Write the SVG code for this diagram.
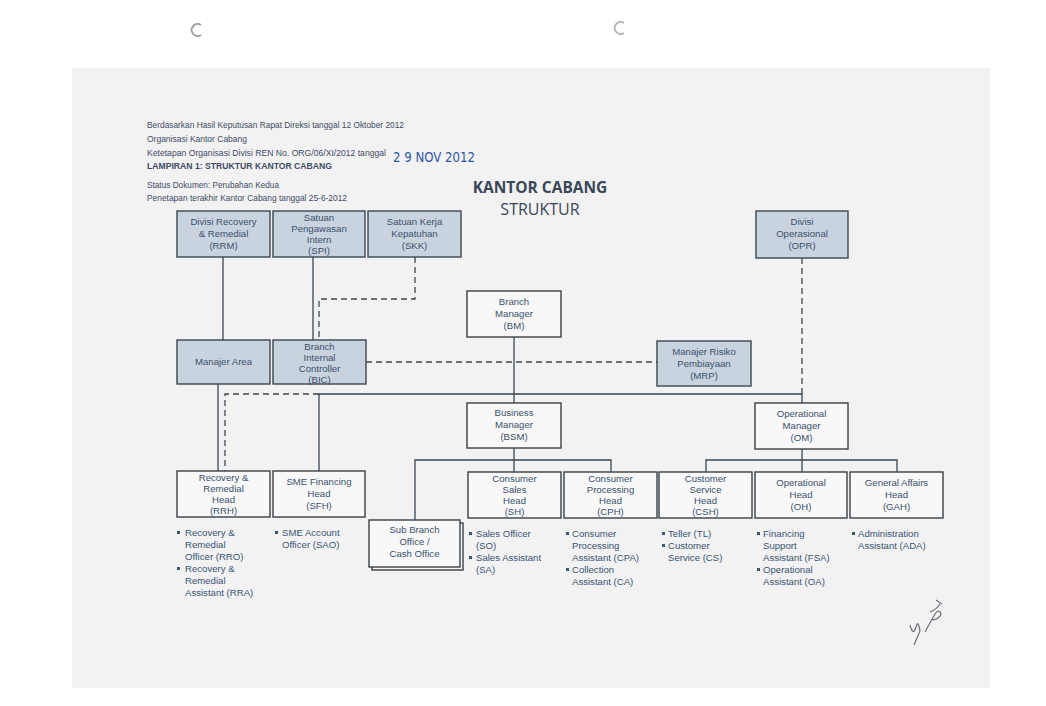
<svg xmlns="http://www.w3.org/2000/svg" width="1046" height="706" viewBox="0 0 1046 706">
<defs>
<style>
.hdr{font-family:"Liberation Sans",Arial,sans-serif;font-size:8.6px;fill:#404b66}
.hdrb{font-weight:bold}
.ttl{font-family:"Open Sans","Liberation Sans",sans-serif;fill:#3a4658;text-anchor:middle}
.gbox{fill:#c9d3df;stroke:#3c4650;stroke-width:1.4}
.wbox{fill:#f8f8f8;stroke:#3a4047;stroke-width:1.4}
.bt{font-family:"Liberation Sans",Arial,sans-serif;font-size:9.6px;fill:#3a506c;text-anchor:middle}
.lt{font-family:"Liberation Sans",Arial,sans-serif;font-size:9.6px;fill:#3a5273}
.bul{fill:#3d5675}
.sol{fill:none;stroke:#3b4650;stroke-width:1.3}
.dsh{fill:none;stroke:#3b4650;stroke-width:1.3;stroke-dasharray:6 4}
</style>
</defs>
<rect width="1046" height="706" fill="#ffffff"/>
<rect x="72" y="68" width="918" height="620" fill="#f2f2f2"/>
<path d="M201 25 A6 6 0 1 0 201 35" fill="none" stroke="#9aa0a6" stroke-width="2"/>
<path d="M624 23 A6 6 0 1 0 624 33" fill="none" stroke="#b0b5ba" stroke-width="2"/>

<g id="header">
<text class="hdr" x="147" y="128" textLength="257" lengthAdjust="spacingAndGlyphs">Berdasarkan Hasil Keputusan Rapat Direksi tanggal 12 Oktober 2012</text>
<text class="hdr" x="147" y="142" textLength="100" lengthAdjust="spacingAndGlyphs">Organisasi Kantor Cabang</text>
<text class="hdr" x="147" y="156" textLength="239" lengthAdjust="spacingAndGlyphs">Ketetapan Organisasi Divisi REN No. ORG/06/XI/2012 tanggal</text>
<text class="hdr hdrb" x="147" y="169" textLength="185" lengthAdjust="spacingAndGlyphs">LAMPIRAN 1: STRUKTUR KANTOR CABANG</text>
<text class="hdr" x="147" y="188" textLength="132" lengthAdjust="spacingAndGlyphs">Status Dokumen: Perubahan Kedua</text>
<text class="hdr" x="147" y="201" textLength="200" lengthAdjust="spacingAndGlyphs">Penetapan terakhir Kantor Cabang tanggal 25-6-2012</text>
<text x="393" y="162" font-family="'DejaVu Sans Condensed','DejaVu Sans',sans-serif" font-size="14" fill="#2f56a8" textLength="82" lengthAdjust="spacingAndGlyphs">2 9  NOV  2012</text>
</g>

<g id="title">
<text class="ttl" x="540" y="193" font-size="15.5" font-weight="bold">KANTOR CABANG</text>
<text class="ttl" x="540" y="215" font-size="16">STRUKTUR</text>
</g>

<g id="connectors">
<path class="sol" d="M223 257 V340"/>
<path class="sol" d="M313 257 V340"/>
<path class="dsh" d="M415 257 V299 H319 V340"/>
<path class="dsh" d="M366 362 H657"/>
<path class="sol" d="M514 337 V403"/>
<path class="sol" d="M319 471 V394 H802 V403"/>
<path class="dsh" d="M802 258 V394"/>
<path class="sol" d="M218 384 V471"/>
<path class="dsh" d="M319 394 H225 V471"/>
<path class="sol" d="M514 448 V472"/>
<path class="sol" d="M415 520 V460 H611 V472"/>
<path class="sol" d="M802 449 V472"/>
<path class="sol" d="M706 472 V460 H897 V472"/>
</g>

<g id="RRM"><rect class="gbox" x="177" y="211" width="93" height="46"/>
<text class="bt" x="223.5" y="225">Divisi Recovery</text><text class="bt" x="223.5" y="237">&amp; Remedial</text><text class="bt" x="223.5" y="249">(RRM)</text></g>
<g id="SPI"><rect class="gbox" x="273" y="211" width="92" height="46"/>
<text class="bt" x="319" y="221">Satuan</text><text class="bt" x="319" y="232">Pengawasan</text><text class="bt" x="319" y="243">Intern</text><text class="bt" x="319" y="254">(SPI)</text></g>
<g id="SKK"><rect class="gbox" x="368" y="211" width="93" height="46"/>
<text class="bt" x="414.5" y="225">Satuan Kerja</text><text class="bt" x="414.5" y="237">Kepatuhan</text><text class="bt" x="414.5" y="249">(SKK)</text></g>
<g id="OPR"><rect class="gbox" x="756" y="211" width="92" height="47"/>
<text class="bt" x="802" y="225">Divisi</text><text class="bt" x="802" y="237">Operasional</text><text class="bt" x="802" y="249">(OPR)</text></g>

<g id="BM"><rect class="wbox" x="467" y="291" width="94" height="46"/>
<text class="bt" x="514" y="305">Branch</text><text class="bt" x="514" y="317">Manager</text><text class="bt" x="514" y="329">(BM)</text></g>

<g id="MA"><rect class="gbox" x="177" y="340" width="93" height="44"/>
<text class="bt" x="223.5" y="365">Manajer Area</text></g>
<g id="BIC"><rect class="gbox" x="273" y="340" width="93" height="44"/>
<text class="bt" x="319.5" y="350">Branch</text><text class="bt" x="319.5" y="361">Internal</text><text class="bt" x="319.5" y="372">Controller</text><text class="bt" x="319.5" y="383">(BIC)</text></g>
<g id="MRP"><rect class="gbox" x="657" y="341" width="94" height="45"/>
<text class="bt" x="704" y="355">Manajer Risiko</text><text class="bt" x="704" y="367">Pembiayaan</text><text class="bt" x="704" y="379">(MRP)</text></g>

<g id="BSM"><rect class="wbox" x="467" y="403" width="94" height="45"/>
<text class="bt" x="514" y="416">Business</text><text class="bt" x="514" y="428">Manager</text><text class="bt" x="514" y="440">(BSM)</text></g>
<g id="OM"><rect class="wbox" x="755" y="403" width="93" height="46"/>
<text class="bt" x="801.5" y="417">Operational</text><text class="bt" x="801.5" y="429">Manager</text><text class="bt" x="801.5" y="441">(OM)</text></g>

<g id="RRH"><rect class="wbox" x="177" y="471" width="93" height="46"/>
<text class="bt" x="223.5" y="481">Recovery &amp;</text><text class="bt" x="223.5" y="492">Remedial</text><text class="bt" x="223.5" y="503">Head</text><text class="bt" x="223.5" y="514">(RRH)</text></g>
<g id="SFH"><rect class="wbox" x="273" y="471" width="92" height="46"/>
<text class="bt" x="319" y="485">SME Financing</text><text class="bt" x="319" y="497">Head</text><text class="bt" x="319" y="509">(SFH)</text></g>
<g id="SBO"><rect class="wbox" x="372" y="523" width="91" height="47"/><rect class="wbox" x="369" y="520" width="91" height="47"/>
<text class="bt" x="414.5" y="533">Sub Branch</text><text class="bt" x="414.5" y="545">Office /</text><text class="bt" x="414.5" y="557">Cash Office</text></g>
<g id="SH"><rect class="wbox" x="468" y="472" width="93" height="46"/>
<text class="bt" x="514.5" y="482">Consumer</text><text class="bt" x="514.5" y="493">Sales</text><text class="bt" x="514.5" y="504">Head</text><text class="bt" x="514.5" y="515">(SH)</text></g>
<g id="CPH"><rect class="wbox" x="564" y="472" width="93" height="46"/>
<text class="bt" x="610.5" y="482">Consumer</text><text class="bt" x="610.5" y="493">Processing</text><text class="bt" x="610.5" y="504">Head</text><text class="bt" x="610.5" y="515">(CPH)</text></g>
<g id="CSH"><rect class="wbox" x="659" y="472" width="93" height="46"/>
<text class="bt" x="705.5" y="482">Customer</text><text class="bt" x="705.5" y="493">Service</text><text class="bt" x="705.5" y="504">Head</text><text class="bt" x="705.5" y="515">(CSH)</text></g>
<g id="OH"><rect class="wbox" x="755" y="472" width="92" height="46"/>
<text class="bt" x="801" y="486">Operational</text><text class="bt" x="801" y="498">Head</text><text class="bt" x="801" y="510">(OH)</text></g>
<g id="GAH"><rect class="wbox" x="850" y="472" width="93" height="46"/>
<text class="bt" x="896.5" y="486">General Affairs</text><text class="bt" x="896.5" y="498">Head</text><text class="bt" x="896.5" y="510">(GAH)</text></g>

<g id="lists">
<rect class="bul" x="177" y="531" width="3" height="3"/>
<text class="lt" x="185" y="536">Recovery &amp;</text><text class="lt" x="185" y="548">Remedial</text><text class="lt" x="185" y="560">Officer (RRO)</text>
<rect class="bul" x="177" y="567" width="3" height="3"/>
<text class="lt" x="185" y="572">Recovery &amp;</text><text class="lt" x="185" y="584">Remedial</text><text class="lt" x="185" y="596">Assistant (RRA)</text>

<rect class="bul" x="275" y="531" width="3" height="3"/>
<text class="lt" x="282" y="536">SME Account</text><text class="lt" x="282" y="548">Officer (SAO)</text>

<rect class="bul" x="469" y="532" width="3" height="3"/>
<text class="lt" x="476" y="537">Sales Officer</text><text class="lt" x="476" y="549">(SO)</text>
<rect class="bul" x="469" y="556" width="3" height="3"/>
<text class="lt" x="476" y="561">Sales Assistant</text><text class="lt" x="476" y="573">(SA)</text>

<rect class="bul" x="566" y="532" width="3" height="3"/>
<text class="lt" x="572" y="537">Consumer</text><text class="lt" x="572" y="549">Processing</text><text class="lt" x="572" y="561">Assistant (CPA)</text>
<rect class="bul" x="566" y="568" width="3" height="3"/>
<text class="lt" x="572" y="573">Collection</text><text class="lt" x="572" y="585">Assistant (CA)</text>

<rect class="bul" x="662" y="532" width="3" height="3"/>
<text class="lt" x="668" y="537">Teller (TL)</text>
<rect class="bul" x="662" y="544" width="3" height="3"/>
<text class="lt" x="668" y="549">Customer</text><text class="lt" x="668" y="561">Service (CS)</text>

<rect class="bul" x="757" y="532" width="3" height="3"/>
<text class="lt" x="763" y="537">Financing</text><text class="lt" x="763" y="549">Support</text><text class="lt" x="763" y="561">Assistant (FSA)</text>
<rect class="bul" x="757" y="568" width="3" height="3"/>
<text class="lt" x="763" y="573">Operational</text><text class="lt" x="763" y="585">Assistant (OA)</text>

<rect class="bul" x="852" y="532" width="3" height="3"/>
<text class="lt" x="858" y="537">Administration</text><text class="lt" x="858" y="549">Assistant (ADA)</text>
</g>

<path d="M910 625 q3 12 6 2 q2 -8 4 4 l-6 14 M925 632 l10 -18 q4 -6 6 0 q-2 6 -10 6 M930 612 q6 -2 10 -8 M936 600 l6 4" fill="none" stroke="#6a6f78" stroke-width="1.2"/>
</svg>
